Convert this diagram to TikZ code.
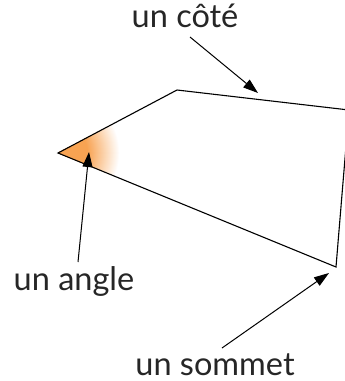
\documentclass[tikz,border=0pt]{standalone}
\usepackage{fontspec}
\setmainfont{Lato}
\usetikzlibrary{arrows.meta}
\definecolor{angleorange}{RGB}{248,163,82}
\begin{document}
\begin{tikzpicture}[x=1pt, y=-1pt,
  lbl/.style={font=\fontsize{32.5}{32.5}\selectfont, text=black!85, inner sep=0pt, anchor=base},
  pointer/.style={-{Triangle[length=15pt,width=10pt]}, line width=1pt}
]
\useasboundingbox (0,0) rectangle (345,381);
% the quadrilateral
\coordinate (A) at (58,153);
\coordinate (B) at (177,90);
\coordinate (C) at (349,110);
\coordinate (D) at (336,267);
\begin{scope}
  \clip (A) -- (B) -- (C) -- (D) -- cycle;
  % soft orange glow in the corner
  \foreach \r in {62,61,...,1} {
    \pgfmathsetmacro{\p}{min(100,100*(62-\r)/32)}
    \fill[angleorange!\p!white] (A) circle (\r);
  }
\end{scope}
\draw[line width=1.1pt] (A) -- (B) -- (C) -- (D) -- cycle;
% labels
\node[lbl] (cote) at (185,27) {un côté};
\node[lbl] (angle) at (74,290) {un angle};
\node[lbl] (sommet) at (215,375) {un sommet};
% arrows
\coordinate (coteTail) at (190,37);
\coordinate (coteTip) at (258,93);
\coordinate (angleTail) at (78,262);
\coordinate (angleTip) at (89,152);
\coordinate (sommetTail) at (222,348);
\coordinate (sommetTip) at (329,273);
\draw[pointer] (coteTail) -- (coteTip);
\draw[pointer] (angleTail) -- (angleTip);
\draw[pointer] (sommetTail) -- (sommetTip);
\end{tikzpicture}
\end{document}
